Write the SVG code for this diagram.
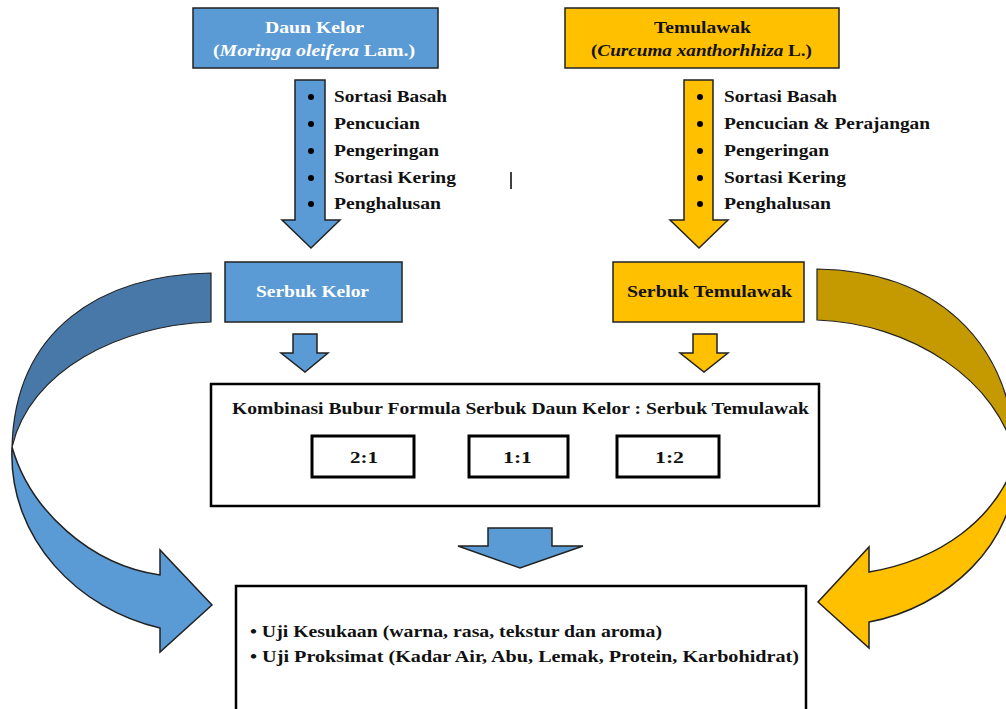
<svg xmlns="http://www.w3.org/2000/svg" width="1006" height="709" viewBox="0 0 1006 709">
<style>
text{font-family:"Liberation Serif","Times New Roman",serif;font-weight:bold;font-size:16.5px;fill:#111}
.w{fill:#fff}
.blue{fill:#5B9BD5;stroke:#222;stroke-width:1.5}
.gold{fill:#FFC000;stroke:#222;stroke-width:1.5}
.bdark{fill:#4878A8;stroke:#222;stroke-width:1.2}
.gdark{fill:#C49A00;stroke:#222;stroke-width:1.2}
.blk{fill:#fff;stroke:#000;stroke-width:2.5}
.rat{fill:#fff;stroke:#000;stroke-width:3}
.dot{fill:#000}
</style>
<rect width="1006" height="709" fill="#fff"/>
<g id="connectors">
  <path class="blue" d="M295,80 H325 V220 H340 L311,248 L282,220 H295 Z"/>
  <path class="gold" d="M684,80 H713 V220 H728 L699,248 L670,220 H684 Z"/>
  <path class="blue" d="M293,334 H317 V353 H328 L305,372 L281,353 H293 Z"/>
  <path class="gold" d="M693,334 H717 V353 H728 L704,372 L680,353 H693 Z"/>
  <path class="blue" d="M488,528 H552 V546 H583 L520,568 L458,546 H488 Z"/>
  <g id="curve-left">
    <path class="bdark" d="M211,273 C100,275 15,330 12,447 C30,370 120,325 211,322 Z"/>
    <path class="blue" d="M12,447 C8,540 80,610 160,628 V652 L212,605 L160,550 V575 C90,565 30,510 12,447 Z"/>
  </g>
  <g id="curve-right">
    <path class="gdark" d="M817,269 C930,271 1012,335 1016,460 C1000,380 910,323 817,320 Z"/>
    <path class="gold" d="M1016,460 C1018,545 945,608 869,622 V648 L818,602 L869,547 V572 C940,560 995,520 1016,460 Z"/>
  </g>
  <line x1="511" y1="172" x2="511" y2="189" stroke="#000" stroke-width="1.5"/>
</g>
<g id="daun-kelor">
  <rect class="blue" x="193" y="8" width="245" height="60"/>
  <text class="w" x="265" y="33" textLength="99" lengthAdjust="spacingAndGlyphs">Daun Kelor</text>
  <text class="w" x="213" y="56" textLength="202" lengthAdjust="spacingAndGlyphs">(<tspan font-style="italic">Moringa oleifera</tspan> Lam.)</text>
</g>
<g id="temulawak">
  <rect class="gold" x="565" y="8" width="274" height="60"/>
  <text x="654" y="33" textLength="97" lengthAdjust="spacingAndGlyphs">Temulawak</text>
  <text x="591" y="56" textLength="221" lengthAdjust="spacingAndGlyphs">(<tspan font-style="italic">Curcuma xanthorhhiza</tspan> L.)</text>
</g>
<g id="proses-kelor">
  <circle class="dot" cx="311" cy="97" r="3"/>
  <circle class="dot" cx="311" cy="124" r="3"/>
  <circle class="dot" cx="311" cy="151" r="3"/>
  <circle class="dot" cx="311" cy="178" r="3"/>
  <circle class="dot" cx="311" cy="204" r="3"/>
  <text x="334" y="102" textLength="113" lengthAdjust="spacingAndGlyphs">Sortasi Basah</text>
  <text x="334" y="129" textLength="86" lengthAdjust="spacingAndGlyphs">Pencucian</text>
  <text x="334" y="156" textLength="105" lengthAdjust="spacingAndGlyphs">Pengeringan</text>
  <text x="334" y="183" textLength="122" lengthAdjust="spacingAndGlyphs">Sortasi Kering</text>
  <text x="334" y="209" textLength="107" lengthAdjust="spacingAndGlyphs">Penghalusan</text>
</g>
<g id="proses-temulawak">
  <circle class="dot" cx="700" cy="97" r="3"/>
  <circle class="dot" cx="700" cy="124" r="3"/>
  <circle class="dot" cx="700" cy="151" r="3"/>
  <circle class="dot" cx="700" cy="178" r="3"/>
  <circle class="dot" cx="700" cy="204" r="3"/>
  <text x="724" y="102" textLength="113" lengthAdjust="spacingAndGlyphs">Sortasi Basah</text>
  <text x="724" y="129" textLength="206" lengthAdjust="spacingAndGlyphs">Pencucian &amp; Perajangan</text>
  <text x="724" y="156" textLength="105" lengthAdjust="spacingAndGlyphs">Pengeringan</text>
  <text x="724" y="183" textLength="122" lengthAdjust="spacingAndGlyphs">Sortasi Kering</text>
  <text x="724" y="209" textLength="107" lengthAdjust="spacingAndGlyphs">Penghalusan</text>
</g>
<g id="serbuk-kelor">
  <rect class="blue" x="225" y="262" width="177" height="60"/>
  <text class="w" x="256" y="297" textLength="113" lengthAdjust="spacingAndGlyphs">Serbuk Kelor</text>
</g>
<g id="serbuk-temulawak">
  <rect class="gold" x="613" y="262" width="191" height="60"/>
  <text x="627" y="297" textLength="165" lengthAdjust="spacingAndGlyphs">Serbuk Temulawak</text>
</g>
<g id="kombinasi">
  <rect class="blk" x="211" y="384" width="608" height="122"/>
  <text x="232" y="414" textLength="577" lengthAdjust="spacingAndGlyphs">Kombinasi Bubur Formula Serbuk Daun Kelor : Serbuk Temulawak</text>
  <g id="r21"><rect class="rat" x="312" y="436" width="102" height="41"/><text x="350" y="463" textLength="28" lengthAdjust="spacingAndGlyphs">2:1</text></g>
  <g id="r11"><rect class="rat" x="469" y="436" width="99" height="41"/><text x="503" y="463" textLength="29" lengthAdjust="spacingAndGlyphs">1:1</text></g>
  <g id="r12"><rect class="rat" x="617" y="436" width="102" height="41"/><text x="655" y="463" textLength="29" lengthAdjust="spacingAndGlyphs">1:2</text></g>
</g>
<g id="uji">
  <rect class="blk" x="236" y="586" width="570" height="130"/>
  <text x="250" y="637" textLength="412" lengthAdjust="spacingAndGlyphs">• Uji Kesukaan (warna, rasa, tekstur dan aroma)</text>
  <text x="250" y="662" textLength="549" lengthAdjust="spacingAndGlyphs">• Uji Proksimat (Kadar Air, Abu, Lemak, Protein, Karbohidrat)</text>
</g>
</svg>
